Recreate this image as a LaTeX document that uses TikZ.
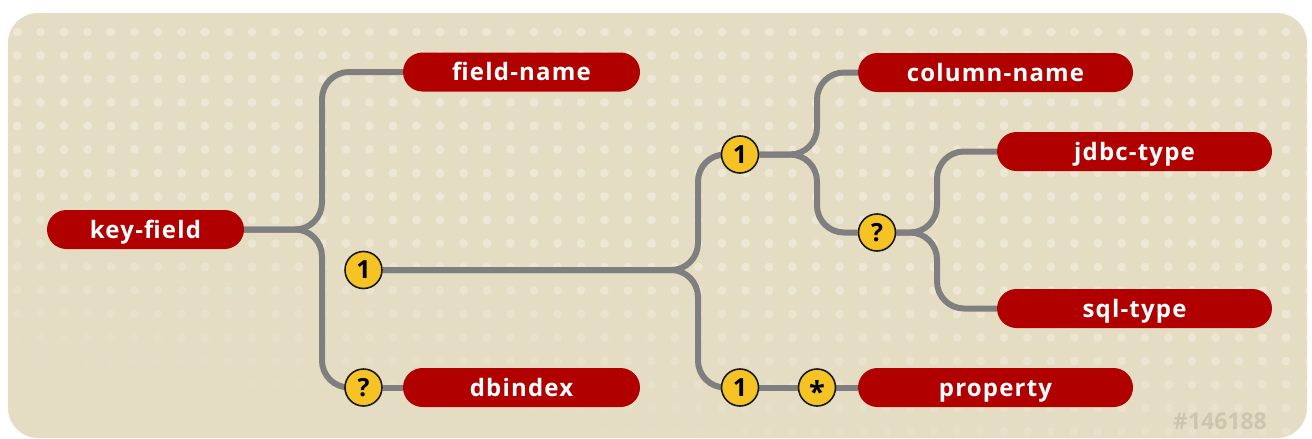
\documentclass[tikz,border=0pt]{standalone}
\usepackage{fontspec}
\newfontfamily\labfont[LetterSpace=5]{Open Sans}
\newfontfamily\plainfont{Open Sans}
\definecolor{bgc}{HTML}{E4DDC4}
\definecolor{dotc}{HTML}{EDE8D5}
\definecolor{pillc}{HTML}{B00000}
\definecolor{linec}{HTML}{7F7F7F}
\definecolor{yelc}{HTML}{F6C324}
\definecolor{idc}{HTML}{CEC6AC}
\pgfdeclarelayer{bglayer}
\pgfsetlayers{bglayer,main}
\tikzset{
  pill/.style={rectangle, rounded corners=19.5pt, fill=pillc, minimum height=39pt, inner sep=0pt,
    text height=22pt, text depth=5pt,
    text=white, font=\labfont\bfseries\fontsize{24}{24}\selectfont},
  occ/.style={circle, minimum size=37pt, inner sep=0pt, fill=yelc, draw=black!90, line width=1.6pt,
    text=black, font=\plainfont\bfseries\fontsize{25}{25}\selectfont},
  conn/.style={draw=linec, line width=6pt, rounded corners=27pt},
}
\begin{document}
\begin{tikzpicture}[x=1pt,y=-1pt]
\useasboundingbox (0,0) rectangle (1312,439);
% nodes
\node[pill, minimum width=197pt] (kf) at (145.5,229.5) {key-field};
\node[pill, minimum width=237pt] (fn) at (521.5,72) {field-name};
\node[pill, minimum width=237pt] (db) at (521.5,387.5) {dbindex};
\node[pill, minimum width=275pt] (cn) at (995.5,72.5) {column-name};
\node[pill, minimum width=275pt] (jt) at (1134.5,151.5) {jdbc-type};
\node[pill, minimum width=275pt] (st) at (1134.5,308.5) {sql-type};
\node[pill, minimum width=275pt] (pr) at (995.5,387.5) {property};
\node[occ] (o1) at (363.5,270) {1};
\node[occ] (q1) at (363.5,387.5) {?};
\node[occ] (o2) at (740,154.5) {1};
\node[occ] (q2) at (877,232.5) {?};
\node[occ] (o3) at (740,387.5) {1};
\node[occ] (st1) at (817,387.5) {\smash{\raisebox{-15pt}{\fontsize{29}{29}\selectfont *}}};
\node[text=idc, font=\plainfont\bfseries\fontsize{23}{23}\selectfont] (id) at (1220,421) {\#146188};
% junction coordinates
\coordinate (j1) at (322,229.5);
\coordinate (j2) at (698,270);
\coordinate (j3) at (817,154.5);
\coordinate (j4) at (937,232.5);
\begin{pgfonlayer}{bglayer}
\fill[white] (0,0) rectangle (1312,439);
\fill[bgc, rounded corners=30pt] (8,13) rectangle (1307,438);
\begin{scope}
\clip[rounded corners=30pt] (8,13) rectangle (1307,438);
\foreach \i in {0,...,55}{
  \foreach \j in {0,...,17}{
    \pgfmathsetmacro{\xx}{17+23.5*\i}
    \pgfmathsetmacro{\yy}{32+23.5*\j}
    \pgfmathsetmacro{\op}{max(0,min(1,(370-\yy)/200+\xx/1500))}
    \fill[dotc, opacity=\op] (\xx,\yy) circle (4.4pt);
  }
}
\end{scope}
\draw[conn] (kf.east) -- (j1) -- (j1 |- fn) -- (fn.west);
\draw[conn] (kf.east) -- (j1) -- (j1 |- q1) -- (q1.west);
\draw[conn] (q1.east) -- (db.west);
\draw[conn] (o1.east) -- (j2) -- (j2 |- o2) -- (o2.west);
\draw[conn] (o1.east) -- (j2) -- (j2 |- o3) -- (o3.west);
\draw[conn] (o2.east) -- (j3) -- (j3 |- cn) -- (cn.west);
\draw[conn] (o2.east) -- (j3) -- (j3 |- q2) -- (q2.west);
\draw[conn] (q2.east) -- (j4) -- (j4 |- jt) -- (jt.west);
\draw[conn] (q2.east) -- (j4) -- (j4 |- st) -- (st.west);
\draw[conn] (o3.east) -- (st1.west);
\draw[conn] (st1.east) -- (pr.west);
\end{pgfonlayer}
\end{tikzpicture}
\end{document}
